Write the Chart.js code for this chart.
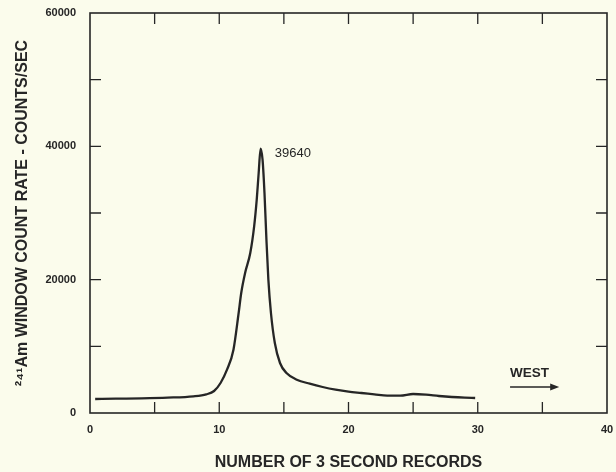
<!DOCTYPE html>
<html>
<head>
<meta charset="utf-8">
<script src="https://cdn.jsdelivr.net/npm/chart.js@4/dist/chart.umd.min.js"></script>
<style>
  html, body { margin: 0; padding: 0; background: #fbfcec; }
  #wrap { width: 616px; height: 472px; }
</style>
</head>
<body>
<div id="wrap"><canvas id="chart"></canvas></div>
<script>
// Data
const recordX = [0.4, 2, 4, 6, 8, 9, 9.6, 10.1, 10.6, 11.1, 11.5, 11.7, 12.0, 12.4, 12.7, 12.9, 13.05, 13.2,
  13.35, 13.5, 13.65, 13.8, 14.0, 14.3, 14.7, 15.2, 16, 17, 18, 19, 20, 21, 22, 23, 24, 25, 26, 27, 28, 29, 29.8];
const countRate = [2100, 2150, 2200, 2300, 2500, 2800, 3300, 4500, 6500, 9500, 15000, 18000, 21000, 24000, 28000, 32000, 36000, 39640,
  38000, 33000, 26000, 20000, 15000, 10500, 7500, 6000, 5000, 4400, 3900, 3500, 3200, 3000, 2800, 2600, 2600, 2850, 2750, 2550, 2400, 2300, 2250];

const xTickLabels = [0, 10, 20, 30, 40];
const yTickLabels = [0, 20000, 40000, 60000];

const peakLabel = { x: 14.3, y: 39000, text: '39640' };
const westLabel = { x: 34.0, y: 6000, text: 'WEST' };
const westArrow = { x0: 32.5, x1: 36.3, y: 3900 };

const INK = '#262626';
const TICK_FONT = { family: '"Liberation Sans", Arial, sans-serif', size: 11, weight: 'bold' };
const TITLE_FONT = { family: '"Liberation Sans", Arial, sans-serif', size: 16, weight: 'bold' };

// Background, frame with inward ticks, and annotations
const framePlugin = {
  id: 'frame',
  beforeDraw(chart) {
    const ctx = chart.ctx;
    ctx.save();
    ctx.fillStyle = '#fbfcec';
    ctx.fillRect(0, 0, chart.width, chart.height);
    ctx.restore();
  },
  afterDatasetsDraw(chart) {
    const { ctx, chartArea: a, scales: { x, y } } = chart;
    const len = 11;
    ctx.save();
    ctx.strokeStyle = INK;
    ctx.lineWidth = 1.6;
    ctx.strokeRect(a.left, a.top, a.right - a.left, a.bottom - a.top);
    ctx.lineWidth = 1.3;
    ctx.beginPath();
    x.ticks.forEach(t => {
      if (t.value <= x.min || t.value >= x.max) return;
      const px = x.getPixelForValue(t.value);
      ctx.moveTo(px, a.bottom); ctx.lineTo(px, a.bottom - len);
      ctx.moveTo(px, a.top); ctx.lineTo(px, a.top + len);
    });
    y.ticks.forEach(t => {
      if (t.value <= y.min || t.value >= y.max) return;
      const py = y.getPixelForValue(t.value);
      ctx.moveTo(a.left, py); ctx.lineTo(a.left + len, py);
      ctx.moveTo(a.right, py); ctx.lineTo(a.right - len, py);
    });
    ctx.stroke();

    // annotations
    ctx.fillStyle = INK;
    ctx.font = '13px "Liberation Sans", Arial, sans-serif';
    ctx.textBaseline = 'middle';
    ctx.textAlign = 'left';
    ctx.fillText(peakLabel.text, x.getPixelForValue(peakLabel.x), y.getPixelForValue(peakLabel.y));
    ctx.textAlign = 'center';
    ctx.font = 'bold 13.5px "Liberation Sans", Arial, sans-serif';
    ctx.fillText(westLabel.text, x.getPixelForValue(westLabel.x), y.getPixelForValue(westLabel.y));

    const ax0 = x.getPixelForValue(westArrow.x0);
    const ax1 = x.getPixelForValue(westArrow.x1);
    const ay = y.getPixelForValue(westArrow.y);
    ctx.lineWidth = 1.4;
    ctx.beginPath();
    ctx.moveTo(ax0, ay); ctx.lineTo(ax1 - 6, ay);
    ctx.stroke();
    ctx.beginPath();
    ctx.moveTo(ax1, ay); ctx.lineTo(ax1 - 9, ay - 3.5); ctx.lineTo(ax1 - 9, ay + 3.5);
    ctx.closePath();
    ctx.fill();
    ctx.restore();
  }
};

new Chart(document.getElementById('chart'), {
  type: 'scatter',
  data: {
    datasets: [{
      data: recordX.map((v, i) => ({ x: v, y: countRate[i] })),
      showLine: true,
      borderColor: INK,
      borderWidth: 2.3,
      pointRadius: 0,
      tension: 0.35,
      cubicInterpolationMode: 'monotone'
    }]
  },
  options: {
    responsive: true,
    maintainAspectRatio: false,
    animation: false,
    layout: { padding: { top: 13, right: 9, left: 0, bottom: 0 } },
    plugins: { legend: { display: false }, tooltip: { enabled: false } },
    scales: {
      x: {
        type: 'linear',
        min: 0, max: 40,
        border: { display: false },
        grid: { display: false, drawTicks: false },
        afterFit: s => { s.height = 59; s.paddingLeft = 0; s.paddingRight = 0; },
        ticks: {
          stepSize: 5,
          padding: 10,
          color: INK,
          font: TICK_FONT,
          maxRotation: 0,
          autoSkip: false,
          callback: v => xTickLabels.includes(v) ? String(v) : ''
        },
        title: {
          display: true,
          text: 'NUMBER OF 3 SECOND RECORDS',
          color: INK,
          font: TITLE_FONT,
          padding: { top: 14, bottom: 0 }
        }
      },
      y: {
        type: 'linear',
        min: 0, max: 60000,
        border: { display: false },
        grid: { display: false, drawTicks: false },
        afterFit: s => { s.width = 90; s.paddingTop = 0; s.paddingBottom = 0; },
        ticks: {
          stepSize: 10000,
          padding: 14,
          color: INK,
          font: TICK_FONT,
          autoSkip: false,
          callback: v => yTickLabels.includes(v) ? String(v) : ''
        },
        title: {
          display: true,
          text: '²⁴¹Am WINDOW COUNT RATE - COUNTS/SEC',
          color: INK,
          font: TITLE_FONT,
          padding: { top: 13, bottom: 0 }
        }
      }
    }
  },
  plugins: [framePlugin]
});
</script>
</body>
</html>
